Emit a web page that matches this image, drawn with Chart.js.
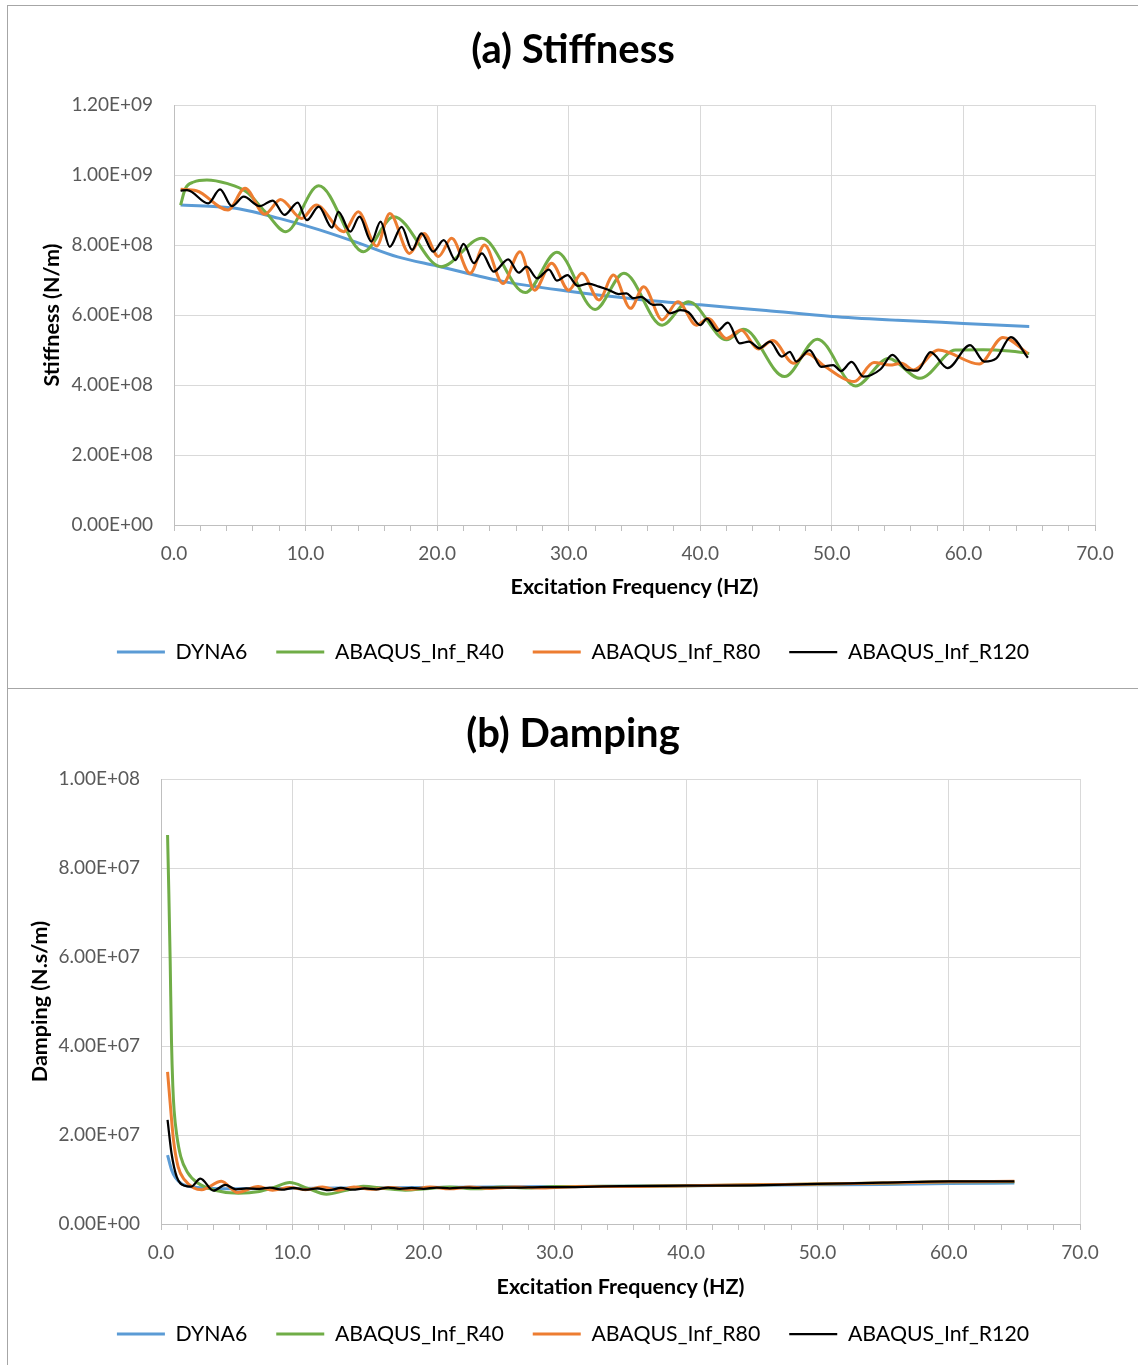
<!DOCTYPE html>
<html><head><meta charset="utf-8">
<script src="https://cdn.jsdelivr.net/npm/chart.js@4.4.1/dist/chart.umd.min.js"></script>
<style>
html,body{margin:0;padding:0;background:#fff;width:1138px;height:1365px;overflow:hidden}
.box{position:absolute;left:7px;width:1140px;border:1px solid #a6a6a6;box-sizing:border-box}
#boxA{top:5px;height:684px}
#boxB{top:688px;height:690px}
.cw{position:absolute}
</style></head><body>
<div class="box" id="boxA"></div><div class="box" id="boxB"></div>
<div class="cw" style="left:8px;top:6px;width:1130px;height:682px"><canvas id="cA" width="1130" height="682"></canvas></div>
<div class="cw" style="left:8px;top:689px;width:1130px;height:676px"><canvas id="cB" width="1130" height="676"></canvas></div>
<script>
// ---------- DATA ----------
const seriesNames = ['DYNA6', 'ABAQUS_Inf_R40', 'ABAQUS_Inf_R80', 'ABAQUS_Inf_R120'];
const xTickValues = [0, 10, 20, 30, 40, 50, 60, 70];

// Stiffness (values in 1E8 N/m)
const STIFF_UNIT = 1e8;
const stiffDyna6Hz = [0.5, 3, 5, 8, 11, 14, 17, 20, 25, 30, 35, 40, 45, 50, 55, 60, 65];
const stiffDyna6 = [9.14, 9.10, 9.03, 8.76, 8.44, 8.06, 7.66, 7.40, 6.96, 6.68, 6.46, 6.29, 6.13, 5.96, 5.85, 5.76, 5.67];
const stiffR40Hz = [0.5, 0.85, 1.5, 2.5, 4.0, 5.5, 7.0, 8.5, 11.0, 14.4, 16.7, 20.3, 23.4, 26.7, 29.1, 32.0, 34.2, 37.1, 39.1, 42.0, 43.3, 46.4, 48.9, 51.8, 54.3, 56.7, 59.4, 61.5, 63.5, 65.0];
const stiffR40 = [9.14, 9.60, 9.80, 9.86, 9.76, 9.52, 8.92, 8.38, 9.69, 7.81, 8.81, 7.38, 8.19, 6.64, 7.79, 6.16, 7.19, 5.71, 6.38, 5.29, 5.59, 4.24, 5.31, 3.97, 4.76, 4.19, 5.00, 5.01, 4.97, 4.90];
const stiffR80Hz = [0.5, 1.7, 4.1, 5.4, 6.9, 8.1, 9.7, 10.8, 12.9, 14.0, 15.4, 16.4, 17.9, 19.0, 20.1, 21.1, 22.5, 23.6, 25.0, 26.3, 27.4, 28.7, 30.0, 31.0, 32.3, 33.4, 34.7, 35.7, 37.1, 38.3, 39.7, 40.6, 42.0, 43.1, 44.4, 45.5, 47.1, 48.1, 49.4, 51.7, 53.2, 54.4, 55.3, 56.2, 58.1, 61.2, 63.0, 64.9];
const stiffR80 = [9.59, 9.55, 9.00, 9.62, 8.88, 9.30, 8.76, 9.14, 8.38, 8.95, 7.97, 8.90, 7.76, 8.33, 7.67, 8.19, 7.19, 8.00, 6.90, 7.81, 6.71, 7.48, 6.71, 7.19, 6.43, 7.14, 6.19, 6.81, 5.86, 6.38, 5.71, 5.90, 5.33, 5.57, 5.03, 5.27, 4.62, 4.90, 4.55, 4.10, 4.64, 4.57, 4.62, 4.43, 5.00, 4.60, 5.36, 4.90];
const stiffR120Hz = [0.5, 1.0, 2.6, 3.5, 4.4, 5.3, 6.5, 7.5, 8.4, 9.4, 10.1, 11.0, 12.0, 12.5, 13.4, 14.1, 15.0, 15.7, 16.4, 17.3, 18.1, 18.8, 19.7, 20.5, 21.4, 22.0, 22.8, 23.4, 24.3, 25.4, 26.2, 26.8, 27.6, 28.5, 29.1, 29.9, 30.7, 31.5, 32.3, 33.0, 33.8, 34.4, 34.9, 35.5, 36.4, 37.0, 37.7, 38.5, 39.1, 40.0, 40.5, 41.3, 42.1, 43.0, 43.7, 44.5, 45.3, 46.2, 46.8, 47.3, 48.3, 49.2, 50.1, 50.7, 51.5, 52.4, 53.7, 54.6, 55.7, 56.5, 57.5, 58.8, 60.5, 61.6, 62.5, 63.6, 64.9];
const stiffR120 = [9.55, 9.57, 9.19, 9.59, 9.11, 9.38, 9.11, 9.27, 8.86, 9.21, 8.71, 9.10, 8.50, 8.95, 8.38, 8.81, 8.10, 8.67, 7.95, 8.52, 7.86, 8.33, 7.81, 8.14, 7.57, 8.03, 7.48, 7.76, 7.24, 7.59, 7.21, 7.38, 7.05, 7.30, 6.98, 7.14, 6.83, 6.90, 6.81, 6.72, 6.60, 6.62, 6.48, 6.52, 6.29, 6.30, 6.05, 6.14, 6.08, 5.71, 5.90, 5.55, 5.78, 5.19, 5.24, 5.05, 5.24, 4.81, 4.95, 4.67, 5.00, 4.52, 4.57, 4.40, 4.66, 4.24, 4.45, 4.86, 4.43, 4.41, 4.94, 4.48, 5.14, 4.67, 4.76, 5.37, 4.78];

// Damping (values in 1E7 N.s/m)
const DAMP_UNIT = 1e7;
const dampDyna6Hz = [0.5, 0.8, 1.1, 1.6, 2.5, 4, 6, 10, 15, 20, 25, 30, 35, 40, 45, 50, 55, 60, 65];
const dampDyna6 = [1.55, 1.22, 1.04, 0.90, 0.83, 0.80, 0.79, 0.80, 0.81, 0.82, 0.83, 0.84, 0.85, 0.86, 0.87, 0.88, 0.89, 0.91, 0.92];
const dampR40Hz = [0.5, 0.6, 0.7, 0.8, 0.9, 1.0, 1.2, 1.5, 2.0, 2.8, 4.1, 5.9, 7.5, 8.6, 9.8, 11.2, 12.6, 14.0, 15.4, 17.0, 18.6, 20.2, 22.0, 24.0, 26.0, 28.0, 30.0, 35.0, 40.0, 45.0, 50.0, 55.0, 60.0, 65.0];
const dampR40 = [8.74, 7.40, 5.90, 4.10, 3.10, 2.55, 2.00, 1.52, 1.17, 0.92, 0.76, 0.69, 0.73, 0.82, 0.93, 0.80, 0.67, 0.75, 0.85, 0.80, 0.76, 0.79, 0.83, 0.79, 0.83, 0.81, 0.84, 0.85, 0.86, 0.88, 0.90, 0.92, 0.95, 0.95];
const dampR80Hz = [0.5, 0.7, 0.95, 1.3, 1.8, 2.5, 3.1, 4.6, 5.8, 7.4, 8.5, 9.8, 11.0, 12.3, 13.5, 14.7, 16.0, 17.5, 19.0, 20.5, 22.0, 23.5, 25.0, 27.0, 29.0, 32.0, 35.0, 40.0, 45.0, 50.0, 55.0, 60.0, 65.0];
const dampR80 = [3.42, 2.71, 1.89, 1.29, 0.99, 0.81, 0.77, 0.96, 0.71, 0.84, 0.76, 0.82, 0.77, 0.83, 0.76, 0.83, 0.78, 0.82, 0.78, 0.83, 0.79, 0.83, 0.80, 0.83, 0.81, 0.84, 0.84, 0.86, 0.88, 0.90, 0.92, 0.95, 0.96];
const dampR120Hz = [0.5, 0.8, 1.2, 1.8, 2.3, 3.0, 4.0, 4.9, 5.7, 6.5, 7.5, 8.3, 9.2, 10.1, 11.0, 11.9, 12.8, 13.7, 14.6, 15.5, 16.4, 17.3, 18.2, 19.1, 20.0, 21.0, 22.0, 23.0, 24.0, 25.0, 27.0, 29.0, 31.0, 33.0, 35.0, 40.0, 45.0, 50.0, 55.0, 60.0, 65.0];
const dampR120 = [2.34, 1.59, 1.06, 0.86, 0.84, 1.02, 0.75, 0.88, 0.78, 0.80, 0.79, 0.82, 0.77, 0.81, 0.77, 0.80, 0.76, 0.81, 0.77, 0.80, 0.78, 0.82, 0.79, 0.81, 0.79, 0.82, 0.80, 0.82, 0.81, 0.82, 0.82, 0.83, 0.83, 0.84, 0.85, 0.86, 0.87, 0.90, 0.93, 0.96, 0.96];

// ---------- CHART ----------
const FONT = 'Lato, "Open Sans", sans-serif';
const COLORS = ['#5B9BD5', '#70AD47', '#ED7D31', '#000000'];
const WIDTHS = [3, 3, 3, 2.25];

function sci(v) {
  if (v === 0) return '0.00E+00';
  const e = Math.floor(Math.log10(Math.abs(v)) + 1e-9);
  const m = v / Math.pow(10, e);
  return m.toFixed(2) + 'E' + (e < 0 ? '-' : '+') + String(Math.abs(e)).padStart(2, '0');
}
function pts(f, v, unit) { return f.map((x, i) => ({x: x, y: v[i] * unit})); }
function ds(i, data) {
  return {label: seriesNames[i], data: data, borderColor: COLORS[i], backgroundColor: COLORS[i],
    borderWidth: WIDTHS[i], pointRadius: 0, pointHoverRadius: 0, fill: false,
    cubicInterpolationMode: 'monotone', order: 4 - i};
}

function makeChart(id, cfg) {
  new Chart(document.getElementById(id), {
    type: 'line',
    data: {datasets: cfg.sets},
    options: {
      responsive: false, animation: false, devicePixelRatio: 1,
      layout: {padding: {left: 0, right: 0, top: 0, bottom: cfg.padBottom}},
      plugins: {
        title: {display: true, text: cfg.title, color: '#000',
          font: {family: FONT, size: 40, weight: 'bold'}, padding: {top: cfg.titleTop, bottom: cfg.titleBottom}},
        legend: {position: 'bottom',
          labels: {usePointStyle: true, pointStyle: 'line', pointStyleWidth: 48, padding: 29, color: '#000',
            font: {family: FONT, size: 21.3}, sort: (a, b) => a.datasetIndex - b.datasetIndex}},
        tooltip: {enabled: false}
      },
      scales: {
        x: {type: 'linear', min: 0, max: 70,
          ticks: {stepSize: 2, autoSkip: false, maxRotation: 0, padding: 11, color: '#595959',
            font: {family: FONT, size: 19},
            callback: (v) => xTickValues.includes(v) ? v.toFixed(1) : ''},
          grid: {color: (c) => (c.tick && xTickValues.includes(c.tick.value)) ? '#d9d9d9' : 'rgba(0,0,0,0)',
            tickColor: '#bfbfbf', tickLength: 6, lineWidth: 1},
          border: {color: '#bfbfbf'},
          title: {display: true, text: 'Excitation Frequency (HZ)', color: '#000',
            font: {family: FONT, size: 21.5, weight: 'bold'}, padding: {top: 0, bottom: cfg.xTitlePad}},
          afterFit: (s) => { s.height = cfg.xHeight; }
        },
        y: {min: 0, max: cfg.yMax,
          ticks: {stepSize: cfg.yStep, padding: 21, color: '#595959', font: {family: FONT, size: 19},
            callback: (v) => sci(v)},
          grid: {color: '#d9d9d9', drawTicks: false},
          border: {color: '#bfbfbf'},
          title: {display: true, text: cfg.yTitle, color: '#000',
            font: {family: FONT, size: 21.5, weight: 'bold'}, padding: {top: cfg.yTitlePad, bottom: 0}},
          afterFit: (s) => { s.width = cfg.yWidth; }
        },
        yR: {position: 'right', display: true, grid: {display: false, drawTicks: false},
          ticks: {display: false}, border: {display: false},
          afterFit: (s) => { s.width = cfg.rightWidth; }}
      }
    }
  });
}

makeChart('cA', {
  title: '(a) Stiffness', titleTop: 20, titleBottom: 31, padBottom: 15.35,
  xHeight: 87.35, xTitlePad: 12.45, yWidth: 166, yTitlePad: 31.1, rightWidth: 43,
  yMax: 1.2e9, yStep: 2e8, yTitle: 'Stiffness (N/m)',
  sets: [ds(0, pts(stiffDyna6Hz, stiffDyna6, STIFF_UNIT)), ds(1, pts(stiffR40Hz, stiffR40, STIFF_UNIT)),
         ds(2, pts(stiffR80Hz, stiffR80, STIFF_UNIT)), ds(3, pts(stiffR120Hz, stiffR120, STIFF_UNIT))]
});
makeChart('cB', {
  title: '(b) Damping', titleTop: 21, titleBottom: 21, padBottom: 10.35,
  xHeight: 70.35, xTitlePad: -5.55, yWidth: 153, yTitlePad: 19.1, rightWidth: 58,
  yMax: 1e8, yStep: 2e7, yTitle: 'Damping (N.s/m)',
  sets: [ds(0, pts(dampDyna6Hz, dampDyna6, DAMP_UNIT)), ds(1, pts(dampR40Hz, dampR40, DAMP_UNIT)),
         ds(2, pts(dampR80Hz, dampR80, DAMP_UNIT)), ds(3, pts(dampR120Hz, dampR120, DAMP_UNIT))]
});
</script>
</body></html>
